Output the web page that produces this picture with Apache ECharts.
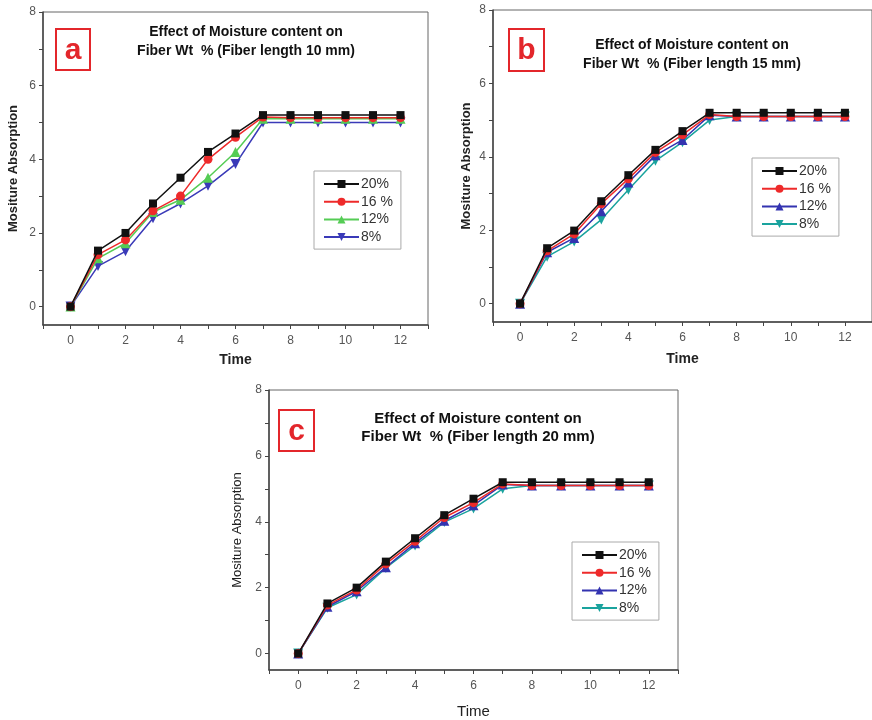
<!DOCTYPE html>
<html>
<head>
<meta charset="utf-8">
<script src="https://cdn.jsdelivr.net/npm/echarts@6/dist/echarts.min.js"></script>
<style>html,body{margin:0;padding:0;background:#fff}#main{width:872px;height:720px}</style>
</head>
<body>
<div id="main"></div>
<script>
// ---- data ----
var times = [0,1,2,3,4,5,6,7,8,9,10,11,12];
var xTickLabels = [0,2,4,6,8,10,12];
var yTickLabels = [0,2,4,6,8];
var seriesNamesA = ['20%','16 %','12%','8%'];
var seriesNamesBC = ['20%','16 %','12%','8%'];

// (a) fiber length 10 mm
var a20 = [0,1.52,2.0,2.8,3.5,4.2,4.7,5.2,5.2,5.2,5.2,5.2,5.2];
var a16 = [0,1.41,1.81,2.6,3.0,4.0,4.6,5.15,5.13,5.13,5.13,5.13,5.13];
var a12 = [0,1.31,1.72,2.57,2.9,3.5,4.2,5.1,5.1,5.1,5.1,5.1,5.1];
var a8  = [0,1.1,1.5,2.4,2.8,3.28,3.87,5.0,5.0,5.0,5.0,5.0,5.0];
// (b) fiber length 15 mm
var b20 = [0,1.51,1.99,2.79,3.5,4.19,4.7,5.2,5.2,5.2,5.2,5.2,5.2];
var b16 = [0,1.44,1.9,2.72,3.4,4.12,4.6,5.15,5.1,5.1,5.1,5.1,5.1];
var b12 = [0,1.4,1.79,2.52,3.3,4.04,4.46,5.13,5.1,5.1,5.1,5.1,5.1];
var b8  = [0,1.28,1.69,2.29,3.1,3.89,4.4,5.0,5.1,5.1,5.1,5.1,5.1];
// (c) fiber length 20 mm
var c20 = [0,1.52,2.0,2.79,3.5,4.2,4.7,5.2,5.2,5.2,5.2,5.2,5.2];
var c16 = [0,1.47,1.93,2.72,3.41,4.13,4.58,5.15,5.1,5.1,5.1,5.1,5.1];
var c12 = [0,1.42,1.89,2.62,3.35,4.03,4.5,5.13,5.1,5.1,5.1,5.1,5.1];
var c8  = [0,1.39,1.79,2.6,3.28,3.99,4.4,5.0,5.1,5.1,5.1,5.1,5.1];

// ---- build ----
var FONT = '"Liberation Sans", Arial, sans-serif';
var RED = '#e3262b';
var colorsA = ['#111111', '#ee2a2a', '#55cc55', '#3a3ab8'];
var colorsBC = ['#111111', '#ee2a2a', '#3333b0', '#1aa39e'];
var symbols = ['rect', 'circle', 'triangle', 'path://M0,0 L10,0 L5,9 Z'];
var symSizes = [8, 9, 10, 10];

function pairs(arr) { return times.map(function (t, i) { return [t, arr[i]]; }); }

var grids = [
  {left: 43, top: 12, width: 385, height: 313},
  {left: 493, top: 10, width: 384, height: 312},
  {left: 269, top: 390, width: 409, height: 288}
];
var allTicksX = [], allTicksY = [];
for (var i = -1; i <= 13; i++) allTicksX.push(i);
for (var j = 0; j <= 8; j++) allTicksY.push(j);

var boldNames = [true, true, false];
var xAxes = [], yAxes = [], series = [], legends = [];
var panelData = [[a20, a16, a12, a8], [b20, b16, b12, b8], [c20, c16, c12, c8]];
var panelColors = [colorsA, colorsBC, colorsBC];
var prefixes = ['a:', 'b:', 'c:'];
var yNameGaps = [23, 20, 25];
var xNameGaps = [28, 30, 34];

grids.forEach(function (g, k) {
  g.show = true; g.borderColor = '#666'; g.borderWidth = 1; g.backgroundColor = 'transparent';
  xAxes.push({
    type: 'value', gridIndex: k, min: -1, max: 13,
    name: 'Time', nameLocation: 'middle', nameGap: xNameGaps[k],
    nameTextStyle: {fontFamily: FONT, fontSize: boldNames[k] ? 14 : 15, fontWeight: boldNames[k] ? 'bold' : 'normal', color: '#222'},
    axisLine: {show: true, onZero: false, lineStyle: {color: '#444', width: 1.5}},
    axisTick: {show: true, inside: false, length: 4, customValues: allTicksX, lineStyle: {color: '#444'}},
    axisLabel: {customValues: xTickLabels, fontFamily: FONT, fontSize: 12, color: '#555', margin: 10},
    splitLine: {show: false}
  });
  yAxes.push({
    type: 'value', gridIndex: k, min: -0.5, max: 8,
    name: 'Mositure Absorption', nameLocation: 'middle', nameGap: yNameGaps[k], nameRotate: 90,
    nameTextStyle: {fontFamily: FONT, fontSize: 13, fontWeight: boldNames[k] ? 'bold' : 'normal', color: '#222'},
    axisLine: {show: true, onZero: false, lineStyle: {color: '#444', width: 1.5}},
    axisTick: {show: true, inside: false, length: 4, customValues: allTicksY, lineStyle: {color: '#444'}},
    axisLabel: {customValues: yTickLabels, fontFamily: FONT, fontSize: 12, color: '#555', margin: 7},
    splitLine: {show: false}
  });
  var names = k === 0 ? seriesNamesA : seriesNamesBC;
  var legendData = [];
  panelData[k].forEach(function (arr, s) {
    var nm = prefixes[k] + names[s];
    legendData.push(nm);
    series.push({
      type: 'line', name: nm, xAxisIndex: k, yAxisIndex: k,
      data: pairs(arr),
      symbol: symbols[s], symbolSize: symSizes[s],
      lineStyle: {color: panelColors[k][s], width: 1.5},
      itemStyle: {color: panelColors[k][s]},
      z: 10 - s,
      animation: false
    });
  });
  legends.push(legendData);
});

var legendPos = [
  {left: 314, top: 171},
  {left: 752, top: 158},
  {left: 572, top: 542}
];
var legendOpts = legendPos.map(function (p, k) {
  return {
    data: legends[k], orient: 'vertical', left: p.left, top: p.top,
    itemWidth: 35, itemHeight: 10, itemGap: 3.7,
    padding: [6, 8, 5, 9],
    borderColor: '#aaa', borderWidth: 1,
    textStyle: {fontFamily: FONT, fontSize: 14, lineHeight: 14, color: '#333', padding: [0, 0, 0, -3]},
    formatter: function (n) { return n.slice(2); },
    selectedMode: false
  };
});

var titles = [
  {cx: 246, y1: 32, y2: 51, len: '10', fs: 14},
  {cx: 692, y1: 45, y2: 64, len: '15', fs: 14},
  {cx: 478, y1: 419, y2: 437, len: '20', fs: 15}
];
var labels = [
  {x: 56, y: 29, w: 34, h: 41, t: 'a'},
  {x: 509, y: 29, w: 35, h: 42, t: 'b'},
  {x: 279, y: 410, w: 35, h: 41, t: 'c'}
];
var graphics = [];
titles.forEach(function (t) {
  graphics.push({type: 'text', x: t.cx, y: t.y1, style: {text: 'Effect of Moisture content on', textAlign: 'center', textVerticalAlign: 'middle', font: 'bold ' + t.fs + 'px ' + FONT, fill: '#111'}});
  graphics.push({type: 'text', x: t.cx, y: t.y2, style: {text: 'Fiber Wt  % (Fiber length ' + t.len + ' mm)', textAlign: 'center', textVerticalAlign: 'middle', font: 'bold ' + t.fs + 'px ' + FONT, fill: '#111'}});
});
labels.forEach(function (l) {
  graphics.push({type: 'rect', shape: {x: l.x, y: l.y, width: l.w, height: l.h}, style: {fill: '#fff', stroke: RED, lineWidth: 2}});
  graphics.push({type: 'text', x: l.x + l.w / 2, y: l.y + l.h / 2 + 1, style: {text: l.t, textAlign: 'center', textVerticalAlign: 'middle', font: 'bold 30px ' + FONT, fill: RED}});
});

var chart = echarts.init(document.getElementById('main'), null, {renderer: 'canvas'});
chart.setOption({
  animation: false,
  backgroundColor: '#fff',
  grid: grids,
  xAxis: xAxes,
  yAxis: yAxes,
  legend: legendOpts,
  series: series,
  graphic: graphics
});
</script>
</body>
</html>
